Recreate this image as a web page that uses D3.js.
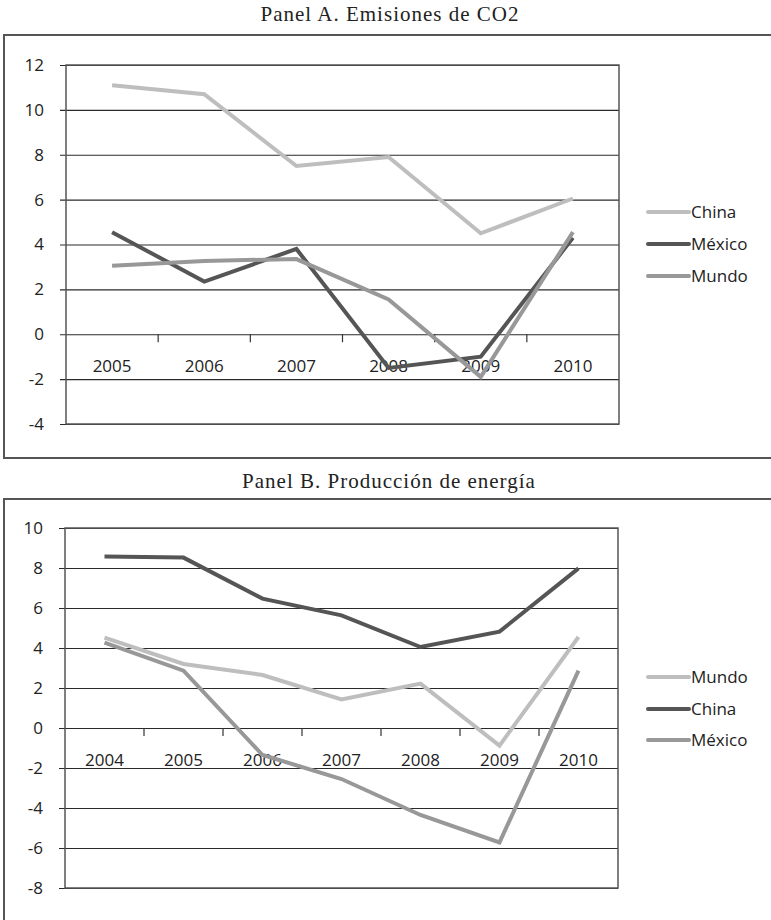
<!DOCTYPE html>
<html><head><meta charset="utf-8">
<script src="https://cdn.jsdelivr.net/npm/d3@7/dist/d3.min.js"></script>
<style>
body{margin:0;background:#fff;}
svg{display:block;}
</style></head>
<body>
<svg id="chart" width="771" height="920"></svg>
<script>
// ---- Data ----
const titleA = "Panel A. Emisiones de CO2";
const yearsA = ["2005","2006","2007","2008","2009","2010"];
const chinaA  = [11.1, 10.7, 7.5, 7.9, 4.5, 6.05];
const mexicoA = [4.55, 2.35, 3.8, -1.5, -1.0, 4.3];
const mundoA  = [3.05, 3.27, 3.35, 1.55, -1.9, 4.55];
const yTicksA = [-4,-2,0,2,4,6,8,10,12];

const titleB = "Panel B. Producción de energía";
const yearsB = ["2004","2005","2006","2007","2008","2009","2010"];
const mundoB  = [4.52, 3.2, 2.65, 1.43, 2.22, -0.88, 4.55];
const chinaB  = [8.57, 8.52, 6.47, 5.63, 4.05, 4.82, 7.98];
const mexicoB = [4.27, 2.87, -1.35, -2.55, -4.35, -5.72, 2.87];
const yTicksB = [-8,-6,-4,-2,0,2,4,6,8,10];

const COLORS = {light:"#bebebe", dark:"#555555", mid:"#989898"};

const svg = d3.select("#chart");
const FONT = "'Open Sans', 'Noto Sans', sans-serif";

function drawPanel(o){
  const g = svg.append("g");
  // outer frame
  g.append("path")
    .attr("d", o.frame)
    .attr("fill","none").attr("stroke","#555").attr("stroke-width",2);
  // title
  g.append("text").attr("x",o.titleX).attr("y",o.titleY)
    .attr("text-anchor","middle")
    .style("font-family","'Liberation Serif', 'DejaVu Serif', serif")
    .style("font-size","21px").style("letter-spacing","1px").attr("fill","#222")
    .text(o.title);

  const x = d3.scaleBand().domain(o.years).range([o.left,o.right]).padding(0);
  const y = d3.scaleLinear().domain(o.domain).range([o.bottom,o.top]);

  // horizontal gridlines + y ticks
  const yAxis = d3.axisLeft(y).tickValues(o.yTicks).tickSize(-(o.right-o.left)).tickSizeOuter(0).tickPadding(22).tickFormat(d3.format("d"));
  const ya = g.append("g").attr("transform",`translate(${o.left},0)`).call(yAxis);
  ya.select(".domain").remove();
  ya.selectAll(".tick line").attr("stroke","#2a2a2a").attr("stroke-width",1.2).attr("x1",-6);
  ya.selectAll(".tick text").style("font-family",FONT).style("font-size","17px").attr("fill","#222");
  ya.selectAll(".tick text").text(d => d<0 ? "-"+Math.abs(d) : d);

  // plot frame
  g.append("rect").attr("x",o.left).attr("y",y(o.domain[1]))
    .attr("width",o.right-o.left).attr("height",y(o.domain[0])-y(o.domain[1]))
    .attr("fill","none").attr("stroke","#555").attr("stroke-width",1.5);

  // category axis at zero
  const xa = d3.axisBottom(x).tickSize(0).tickPadding(26);
  const xg = g.append("g").attr("transform",`translate(0,${y(0)})`).call(xa);
  xg.select(".domain").remove();
  xg.selectAll(".tick text").style("font-family",FONT).style("font-size","17px").attr("fill","#222");
  // tick marks between categories
  const between = o.years.slice(1).map(d => x(d));
  g.selectAll(".btick").data(between).enter().append("line")
    .attr("x1",d=>d).attr("x2",d=>d).attr("y1",y(0)).attr("y2",y(0)+8)
    .attr("stroke","#333").attr("stroke-width",1.2);

  // lines
  const line = d3.line().x((d,i)=>x(o.years[i])+x.bandwidth()/2).y(d=>y(d));
  o.series.forEach(s=>{
    g.append("path").datum(s.values).attr("d",line)
      .attr("fill","none").attr("stroke",s.color).attr("stroke-width",4)
      .attr("stroke-linejoin","miter").attr("stroke-linecap","butt");
  });

  // legend
  o.series.forEach((s,i)=>{
    const ly = o.legendY[i];
    g.append("line").attr("x1",648).attr("x2",689).attr("y1",ly).attr("y2",ly)
      .attr("stroke",s.color).attr("stroke-width",4).attr("stroke-linecap","round");
    g.append("text").attr("x",691).attr("y",ly).attr("dy","0.35em")
      .style("font-family",FONT).style("font-size","17px").attr("fill","#222")
      .text(s.name);
  });
}

drawPanel({
  title: titleA, titleX: 390, titleY: 21,
  frame: "M771,35 H4 V458 H771",
  years: yearsA, yTicks: yTicksA, domain:[-4,12],
  left:66, right:619, top:65, bottom:424,
  series:[
    {name:"China", values:chinaA, color:COLORS.light},
    {name:"México", values:mexicoA, color:COLORS.dark},
    {name:"Mundo", values:mundoA, color:COLORS.mid}
  ],
  legendY:[212,244,276]
});

drawPanel({
  title: titleB, titleX: 389, titleY: 488,
  frame: "M771,499 H4 V921",
  years: yearsB, yTicks: yTicksB, domain:[-8,10],
  left:65, right:618, top:528, bottom:888,
  series:[
    {name:"Mundo", values:mundoB, color:COLORS.light},
    {name:"China", values:chinaB, color:COLORS.dark},
    {name:"México", values:mexicoB, color:COLORS.mid}
  ],
  legendY:[677,709,740]
});
</script>
</body></html>
